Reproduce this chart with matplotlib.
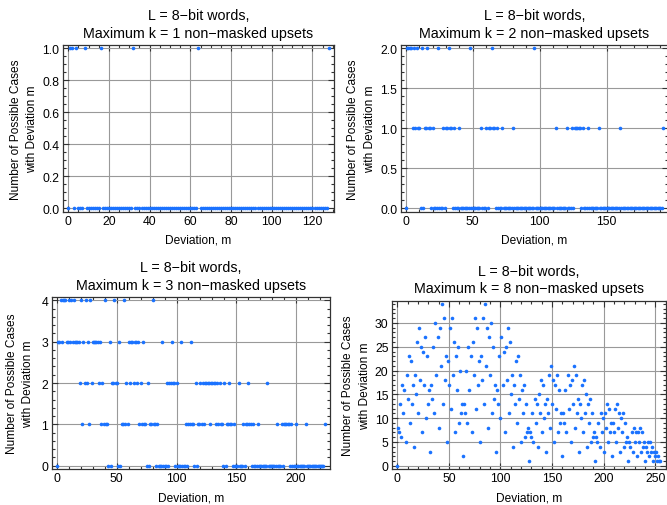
import numpy as np
import matplotlib
matplotlib.use("Agg")
import matplotlib.pyplot as plt
from matplotlib.ticker import MultipleLocator

plt.rcParams["font.family"] = ["Liberation Sans", "DejaVu Sans"]
plt.rcParams["font.size"] = 9

# number of possible cases for each deviation m = 0, 1, 2, ...
k1_counts = [
	0, 1, 1, 0, 1, 0, 0, 0, 1, 0, 0, 0, 0, 0, 0, 0, 1, 0, 0, 0,
	0, 0, 0, 0, 0, 0, 0, 0, 0, 0, 0, 0, 1, 0, 0, 0, 0, 0, 0, 0,
	0, 0, 0, 0, 0, 0, 0, 0, 0, 0, 0, 0, 0, 0, 0, 0, 0, 0, 0, 0,
	0, 0, 0, 0, 1, 0, 0, 0, 0, 0, 0, 0, 0, 0, 0, 0, 0, 0, 0, 0,
	0, 0, 0, 0, 0, 0, 0, 0, 0, 0, 0, 0, 0, 0, 0, 0, 0, 0, 0, 0,
	0, 0, 0, 0, 0, 0, 0, 0, 0, 0, 0, 0, 0, 0, 0, 0, 0, 0, 0, 0,
	0, 0, 0, 0, 0, 0, 0, 0, 1,
]

k2_counts = [
	0, 2, 2, 2, 2, 1, 2, 1, 2, 1, 1, 0, 2, 0, 1, 1, 2, 1, 1, 0,
	1, 0, 0, 0, 2, 0, 0, 0, 1, 0, 1, 1, 2, 1, 1, 0, 1, 0, 0, 0,
	1, 0, 0, 0, 0, 0, 0, 0, 2, 0, 0, 0, 0, 0, 0, 0, 1, 0, 0, 0,
	1, 0, 1, 1, 2, 1, 1, 0, 1, 0, 0, 0, 1, 0, 0, 0, 0, 0, 0, 0,
	1, 0, 0, 0, 0, 0, 0, 0, 0, 0, 0, 0, 0, 0, 0, 0, 2, 0, 0, 0,
	0, 0, 0, 0, 0, 0, 0, 0, 0, 0, 0, 0, 1, 0, 0, 0, 0, 0, 0, 0,
	1, 0, 0, 0, 1, 0, 1, 1, 1, 1, 1, 0, 1, 0, 0, 0, 1, 0, 0, 0,
	0, 0, 0, 0, 1, 0, 0, 0, 0, 0, 0, 0, 0, 0, 0, 0, 0, 0, 0, 0,
	1, 0, 0, 0, 0, 0, 0, 0, 0, 0, 0, 0, 0, 0, 0, 0, 0, 0, 0, 0,
	0, 0, 0, 0, 0, 0, 0, 0, 0, 0, 0, 0, 1,
]

k3_counts = [
	0, 3, 3, 4, 3, 4, 4, 4, 3, 3, 4, 3, 4, 3, 4, 3, 3, 3, 3, 2,
	4, 1, 3, 2, 4, 2, 3, 1, 4, 2, 3, 3, 3, 3, 3, 2, 3, 1, 2, 1,
	4, 1, 1, 0, 3, 0, 2, 2, 4, 2, 2, 0, 3, 0, 1, 1, 4, 1, 2, 1,
	3, 2, 3, 3, 2, 3, 3, 2, 3, 1, 2, 1, 3, 1, 1, 0, 2, 0, 1, 1,
	4, 1, 1, 0, 1, 0, 0, 0, 3, 0, 0, 0, 2, 0, 2, 2, 3, 2, 2, 0,
	2, 0, 0, 0, 3, 0, 0, 0, 1, 0, 1, 1, 3, 1, 1, 0, 2, 0, 1, 1,
	2, 1, 2, 1, 2, 2, 2, 2, 1, 2, 2, 2, 2, 1, 2, 1, 2, 1, 1, 0,
	2, 0, 1, 1, 2, 1, 1, 0, 1, 0, 0, 0, 2, 0, 0, 0, 1, 0, 1, 1,
	2, 1, 1, 0, 1, 0, 0, 0, 1, 0, 0, 0, 0, 0, 0, 0, 2, 0, 0, 0,
	0, 0, 0, 0, 1, 0, 0, 0, 1, 0, 1, 1, 1, 1, 1, 0, 1, 0, 0, 0,
	1, 0, 0, 0, 0, 0, 0, 0, 1, 0, 0, 0, 0, 0, 0, 0, 0, 0, 0, 0,
	0, 0, 0, 0, 1,
]

k8_counts = [
	0, 8, 7, 13, 6, 17, 11, 16, 5, 19, 14, 23, 9, 22, 13, 17, 4, 19, 15, 26,
	11, 29, 18, 25, 7, 24, 17, 27, 10, 23, 13, 16, 3, 17, 14, 25, 11, 30, 19, 27,
	8, 29, 21, 34, 13, 31, 18, 23, 5, 22, 17, 29, 12, 31, 19, 26, 7, 23, 16, 25,
	9, 20, 11, 13, 2, 13, 11, 20, 9, 25, 16, 23, 7, 26, 19, 31, 12, 29, 17, 22,
	5, 23, 18, 31, 13, 34, 21, 29, 8, 27, 19, 30, 11, 25, 14, 17, 3, 16, 13, 23,
	10, 27, 17, 24, 7, 25, 18, 29, 11, 26, 15, 19, 4, 17, 13, 22, 9, 23, 14, 19,
	5, 16, 11, 17, 6, 13, 7, 8, 1, 7, 6, 11, 5, 14, 9, 13, 4, 15, 11, 18,
	7, 17, 10, 13, 3, 14, 11, 19, 8, 21, 13, 18, 5, 17, 12, 19, 7, 16, 9, 11,
	2, 11, 9, 16, 7, 19, 12, 17, 5, 18, 13, 21, 8, 19, 11, 14, 3, 13, 10, 17,
	7, 18, 11, 15, 4, 13, 9, 14, 5, 11, 6, 7, 1, 6, 5, 9, 4, 11, 7, 10,
	3, 11, 8, 13, 5, 12, 7, 9, 2, 9, 7, 12, 5, 13, 8, 11, 3, 10, 7, 11,
	4, 9, 5, 6, 1, 5, 4, 7, 3, 8, 5, 7, 2, 7, 5, 8, 3, 7, 4, 5,
	1, 4, 3, 5, 2, 5, 3, 4, 1, 3, 2, 3, 1, 2, 1, 1,
]

k_list = [1, 2, 3, 8]
counts_list = [k1_counts, k2_counts, k3_counts, k8_counts]

# axes boxes in figure fraction [left, bottom, width, height]
boxes = [
	[0.0945, 0.580, 0.4062, 0.329],
	[0.6007, 0.580, 0.4010, 0.329],
	[0.0775, 0.0711, 0.4173, 0.340],
	[0.5877, 0.0711, 0.4103, 0.3327],
]
# (major x, minor x, major y, minor y)
tick_steps = [
	(20, 5, 0.2, 0.05),
	(50, 10, 0.5, 0.1),
	(50, 10, 1, 0.2),
	(50, 10, 5, 1),
]
ylabel_pad = [3, 3, 5, 3]

point_color = "#1a72ff"
frame_color = "#333333"

fig = plt.figure(figsize=(6.67, 5.06), dpi=100)
for i in range(4):
	counts = counts_list[i]
	m = np.arange(len(counts))
	ax = fig.add_axes(boxes[i])
	ax.plot(m, counts, "o", ms=2.6, color=point_color, mec="none", zorder=3, clip_on=False)
	xmax = len(counts) - 1
	ymax = max(counts)
	ax.set_xlim(-0.02*xmax, 1.02*xmax)
	ax.set_ylim(-0.02*ymax, 1.02*ymax)
	mx, mnx, my, mny = tick_steps[i]
	ax.xaxis.set_major_locator(MultipleLocator(mx))
	ax.xaxis.set_minor_locator(MultipleLocator(mnx))
	ax.yaxis.set_major_locator(MultipleLocator(my))
	ax.yaxis.set_minor_locator(MultipleLocator(mny))
	if i == 2:
		ax.yaxis.set_major_formatter(plt.FormatStrFormatter("%d"))
	ax.tick_params(which="both", direction="in", top=True, right=True, color=frame_color, width=0.8)
	ax.tick_params(which="major", length=4, pad=2.5, labelsize=8.8)
	ax.tick_params(which="minor", length=2)
	for sp in ax.spines.values():
		sp.set_color(frame_color)
		sp.set_linewidth(0.9)
	ax.grid(True, which="major", color="#999999", lw=0.8)
	ax.set_axisbelow(True)
	ax.set_title(f"L = 8\u2212bit words,\nMaximum k = {k_list[i]} non\u2212masked upsets",
		fontsize=10.3, pad=6, linespacing=1.3)
	ax.set_xlabel("Deviation, m", fontsize=8.6, labelpad=5)
	ax.set_ylabel("Number of Possible Cases\nwith Deviation m", fontsize=8.6,
		labelpad=ylabel_pad[i], linespacing=1.5)

fig.savefig("out.png", dpi=100)
